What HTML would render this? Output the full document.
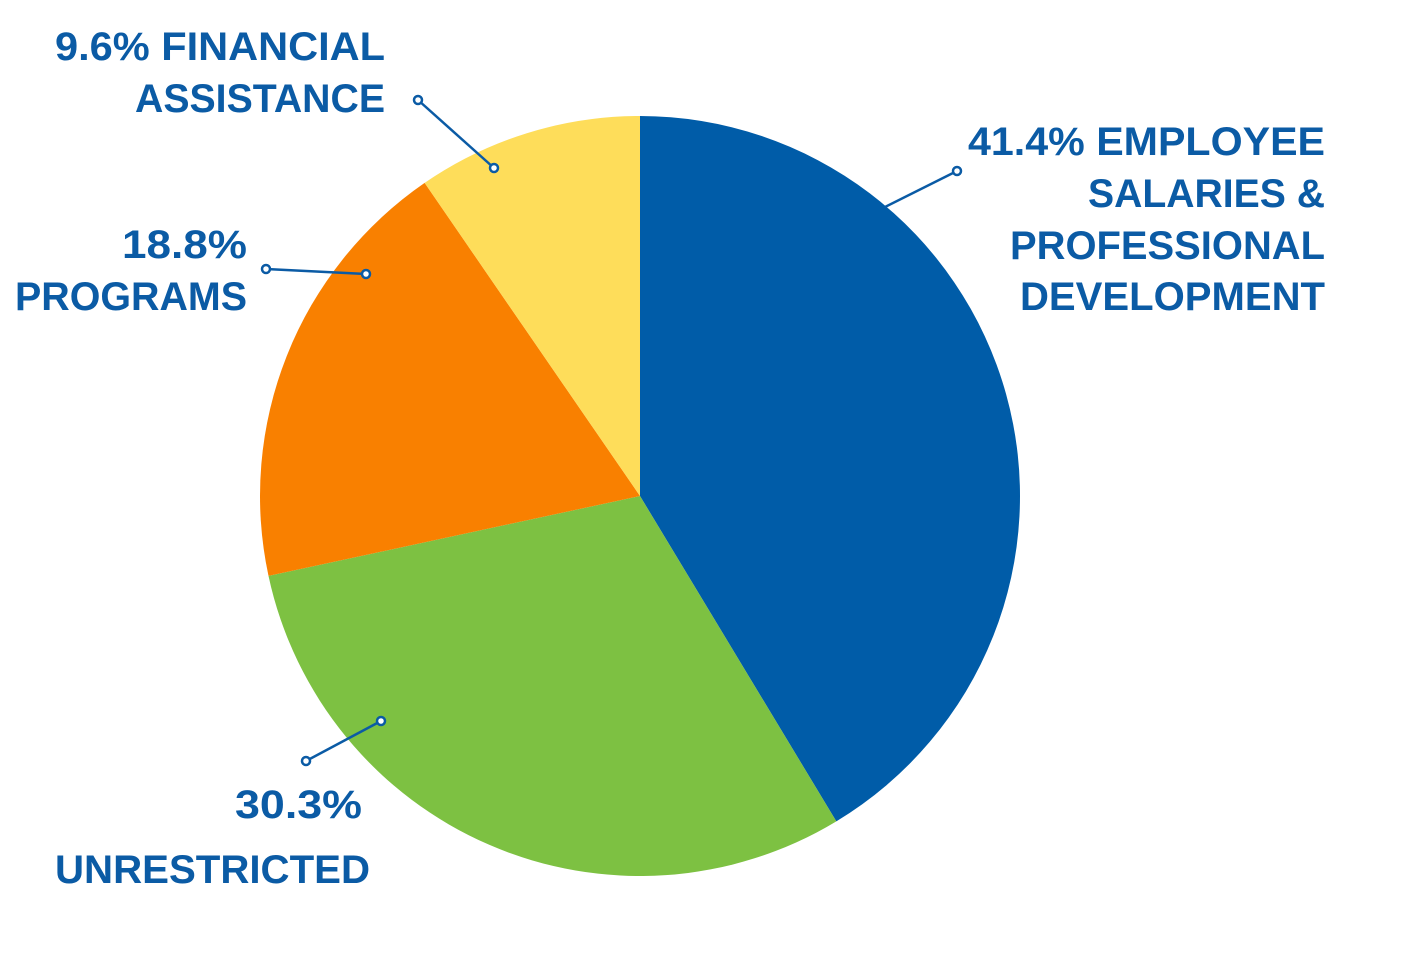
<!DOCTYPE html>
<html><head><meta charset="utf-8"><style>
html,body{margin:0;padding:0;background:#fff;}
svg{display:block;}
.lbl{font-family:"Liberation Sans",sans-serif;font-weight:bold;font-size:40px;fill:#0b5ba5;}
</style></head><body>
<svg id="chart" width="1404" height="979" viewBox="0 0 1404 979">
<g id="slices"></g>
<g stroke="#0b5ba5" stroke-width="2.5" fill="#fff">
<line x1="418" y1="100" x2="494" y2="168"/>
<circle cx="418" cy="100" r="4"/><circle cx="494" cy="168" r="4"/>
<line x1="957" y1="171" x2="885" y2="207"/>
<circle cx="957" cy="171" r="4"/>
<line x1="266" y1="269" x2="366" y2="274"/>
<circle cx="266" cy="269" r="4"/><circle cx="366" cy="274" r="4"/>
<line x1="306" y1="761" x2="381" y2="721"/>
<circle cx="306" cy="761" r="4"/><circle cx="381" cy="721" r="4"/>
</g>
<g>
<text class="lbl" x="55" y="60" textLength="330" lengthAdjust="spacingAndGlyphs">9.6% FINANCIAL</text>
<text class="lbl" x="135" y="112" textLength="250" lengthAdjust="spacingAndGlyphs">ASSISTANCE</text>
<text class="lbl" x="968" y="155" textLength="357" lengthAdjust="spacingAndGlyphs">41.4% EMPLOYEE</text>
<text class="lbl" x="1088" y="207" textLength="237" lengthAdjust="spacingAndGlyphs">SALARIES &amp;</text>
<text class="lbl" x="1010" y="259" textLength="315" lengthAdjust="spacingAndGlyphs">PROFESSIONAL</text>
<text class="lbl" x="1020" y="310" textLength="305" lengthAdjust="spacingAndGlyphs">DEVELOPMENT</text>
<text class="lbl" x="122" y="258" textLength="125" lengthAdjust="spacingAndGlyphs">18.8%</text>
<text class="lbl" x="15" y="310" textLength="232" lengthAdjust="spacingAndGlyphs">PROGRAMS</text>
<text class="lbl" x="235" y="818" textLength="127" lengthAdjust="spacingAndGlyphs">30.3%</text>
<text class="lbl" x="55" y="883" textLength="315" lengthAdjust="spacingAndGlyphs">UNRESTRICTED</text>
</g>
</svg>
<script>
const categories = ["Employee Salaries & Professional Development","Unrestricted","Programs","Financial Assistance"];
const values = [41.4, 30.3, 18.8, 9.6];
const colors = ["#005ca8","#7dc142","#f98000","#fedd5a"];
const cx = 640, cy = 496, r = 380;
const total = values.reduce((a,b)=>a+b,0);
const g = document.getElementById('slices');
function pt(frac){ const a = frac*2*Math.PI; return [cx + r*Math.sin(a), cy - r*Math.cos(a)]; }
let acc = 0;
values.forEach((v,i)=>{
  const s = acc/total, e = (acc+v)/total; acc += v;
  const [x1,y1] = pt(s), [x2,y2] = pt(e);
  const large = (e-s) > 0.5 ? 1 : 0;
  const p = document.createElementNS('http://www.w3.org/2000/svg','path');
  p.setAttribute('d', `M${cx},${cy} L${x1},${y1} A${r},${r} 0 ${large} 1 ${x2},${y2} Z`);
  p.setAttribute('fill', colors[i]);
  
  
  g.appendChild(p);
});
</script>
</body></html>
